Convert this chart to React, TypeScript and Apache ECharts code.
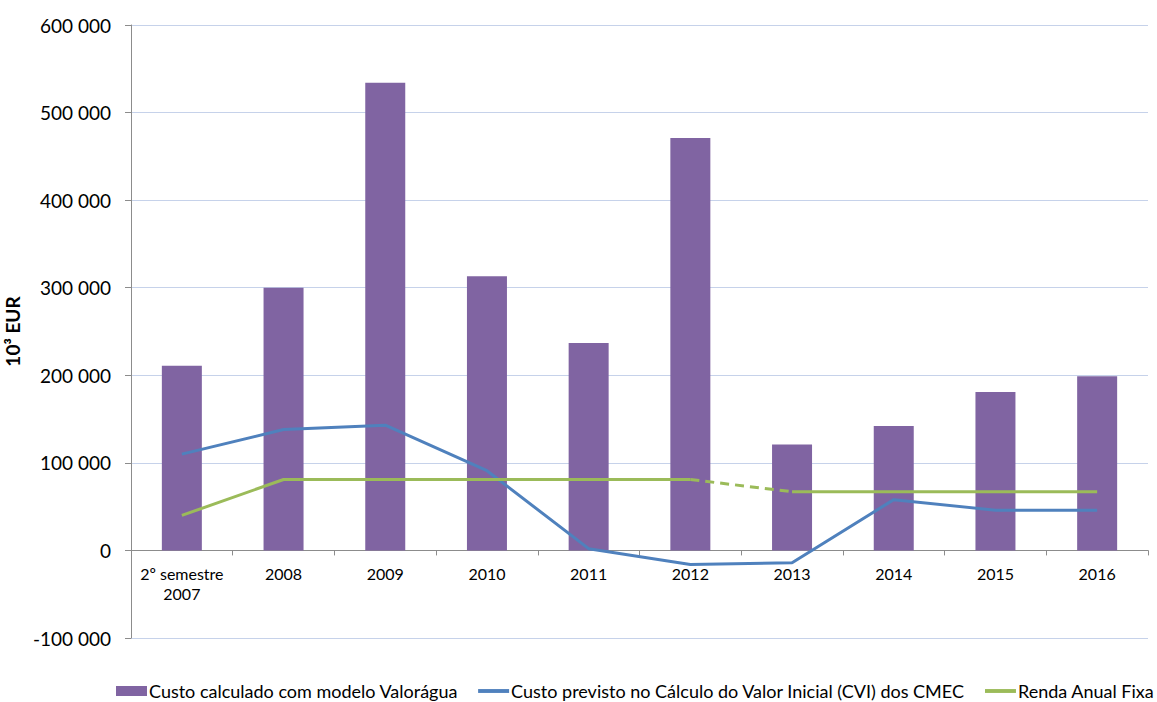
import React, { useEffect, useRef } from "react";
import * as echarts from "echarts";

const categories = ["2º semestre\n2007", "2008", "2009", "2010", "2011", "2012", "2013", "2014", "2015", "2016"];
const valoraguaCost = [211000, 300000, 534000, 313000, 237000, 471000, 121000, 142000, 181000, 199000];
const cviCost = [110000, 138000, 143000, 91000, 2000, -16000, -14000, 58000, 46000, 46000];
const rendaSolidA = [40000, 81000, 81000, 81000, 81000, 81000, null, null, null, null];
const rendaDashed = [null, null, null, null, null, 81000, 67000, null, null, null];
const rendaSolidB = [null, null, null, null, null, null, 67000, 67000, 67000, 67000];
const yTicks = { min: -100000, max: 600000, interval: 100000 };

const seriesNames = [
  "Custo calculado com modelo Valorágua",
  "Custo previsto no Cálculo do Valor Inicial (CVI) dos CMEC",
  "Renda Anual Fixa",
];

const FONT = "Lato, 'Open Sans', sans-serif";
const PURPLE = "#8064a2";
const BLUE = "#4f81bd";
const GREEN = "#9bbb59";
const LINE_ICON = "path://M0,0L32,0L32,4L0,4Z";

const GRID = { left: 131, right: 9, top: 25, bottom: 64 };
const CHART_H = 702;

function fmt(v: number): string {
  const s = Math.abs(v).toString().replace(/\B(?=(\d{3})+(?!\d))/g, " ");
  return (v < 0 ? "-" : "") + s;
}

export default function App() {
  const ref = useRef<HTMLDivElement>(null);
  useEffect(() => {
    document.body.style.margin = "0";
    const chart = echarts.init(ref.current!, null, { renderer: "svg" });
    const toData = (arr: (number | null)[]) => arr.map((v) => (v === null ? "-" : v));
    const gridH = CHART_H - GRID.top - GRID.bottom;
    const zeroOffset = -gridH * (0 - yTicks.min) / (yTicks.max - yTicks.min);
    chart.setOption({
      animation: false,
      textStyle: { fontFamily: FONT },
      grid: { ...GRID, containLabel: false, outerBoundsMode: "none" },
      legend: {
        bottom: 2,
        left: 116,
        width: 1080,
        padding: 0,
        itemWidth: 31,
        itemHeight: 10,
        itemGap: 20,
        textStyle: { fontFamily: FONT, fontSize: 18, color: "#000", padding: [0, 0, 0, -3] },
        data: [
          { name: seriesNames[0], icon: "rect" },
          { name: seriesNames[1], icon: LINE_ICON },
          { name: seriesNames[2], icon: LINE_ICON },
        ],
      },
      xAxis: {
        type: "category",
        data: categories,
        boundaryGap: true,
        position: "bottom",
        offset: zeroOffset,
        axisLine: { onZero: false, lineStyle: { color: "#8c8c8c", width: 1 } },
        axisTick: { show: true, length: 5, alignWithLabel: false, lineStyle: { color: "#8c8c8c" } },
        axisLabel: { interval: 0, color: "#000", fontSize: 16, margin: 13, lineHeight: 20, fontFamily: FONT },
        splitLine: { show: false },
      },
      yAxis: {
        type: "value",
        min: yTicks.min,
        max: yTicks.max,
        interval: yTicks.interval,
        name: "10³ EUR",
        nameLocation: "middle",
        nameGap: 95,
        nameTextStyle: { fontWeight: "bold", fontSize: 19, color: "#000", fontFamily: FONT },
        axisLine: { show: true, lineStyle: { color: "#8c8c8c", width: 1 } },
        axisTick: { show: true, length: 6, lineStyle: { color: "#8c8c8c" } },
        axisLabel: { color: "#000", fontSize: 19, margin: 20, formatter: (v: number) => fmt(v), fontFamily: FONT },
        splitLine: { show: true, lineStyle: { color: "#c6d2ea", width: 1 } },
      },
      series: [
        {
          name: seriesNames[0],
          type: "bar",
          data: valoraguaCost,
          barWidth: 40,
          itemStyle: { color: PURPLE },
          z: 1,
        },
        {
          name: seriesNames[1],
          type: "line",
          data: cviCost,
          symbol: "none",
          lineStyle: { color: BLUE, width: 3 },
          itemStyle: { color: BLUE },
          z: 3,
        },
        {
          name: seriesNames[2],
          type: "line",
          data: toData(rendaSolidA),
          symbol: "none",
          lineStyle: { color: GREEN, width: 3 },
          itemStyle: { color: GREEN },
          z: 4,
        },
        {
          name: "Renda Anual Fixa (transição)",
          type: "line",
          data: toData(rendaDashed),
          symbol: "none",
          lineStyle: { color: GREEN, width: 3, type: [9, 6] },
          itemStyle: { color: GREEN },
          z: 4,
        },
        {
          name: seriesNames[2] + " ",
          type: "line",
          data: toData(rendaSolidB),
          symbol: "none",
          lineStyle: { color: GREEN, width: 3 },
          itemStyle: { color: GREEN },
          z: 4,
        },
      ],
    });
    return () => chart.dispose();
  }, []);
  return <div ref={ref} style={{ width: 1157, height: CHART_H }} />;
}
